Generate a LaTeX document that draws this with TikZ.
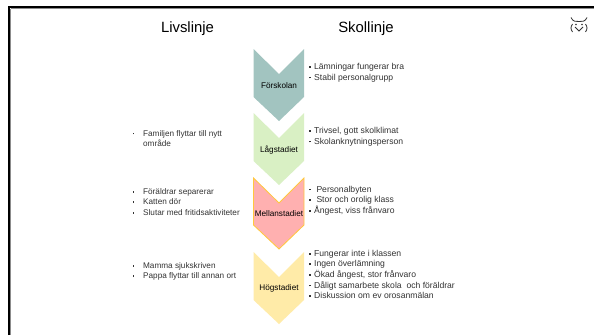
\documentclass[tikz,border=0pt]{standalone}
\usepackage{fontspec}
\setmainfont{Liberation Sans}
\definecolor{forskola}{HTML}{A2C4C0}
\definecolor{lagstadie}{HTML}{D9F0C4}
\definecolor{mellanstadie}{HTML}{FFB0B0}
\definecolor{mellanram}{HTML}{FFC83D}
\definecolor{hogstadie}{HTML}{FFEBA8}
\definecolor{brodtext}{HTML}{333333}
\newcommand{\hoger}{\makebox[4.2pt][l]{\rule[1.5pt]{1.5pt}{1.5pt}}}
\newcommand{\vanster}{\makebox[8.9pt][l]{\rule[1.5pt]{1.5pt}{1.5pt}}}
\tikzset{
	rubrik/.style={inner sep=0pt, font=\fontsize{12.7}{15}\selectfont},
	stadium/.style={inner sep=0pt, font=\fontsize{7}{8}\selectfont},
	lista/.style={inner sep=0pt, anchor=west, align=left, text=brodtext, font=\fontsize{7.35}{9.1}\selectfont},
	livlista/.style={lista, font=\fontsize{7}{9.1}\selectfont},
	uggla/.style={line width=0.7pt, black!80}
}

\begin{document}
\begin{tikzpicture}[x=0.03cm, y=-0.03cm]
	\useasboundingbox (0,0) rectangle (594,335);
	\fill[white] (0,0) rectangle (594,335);

	% Frame
	\draw[line width=0.85pt, black!45] (10.5,8.6) -- (594,8.6);
	\draw[line width=0.85pt, black!45] (10.5,8.6) -- (10.5,335);
	\draw[line width=1.7pt, black] (9,335) -- (9,7) -- (594,7);

	% Titles
	\node[rubrik] (livslinje) at (187.5,29) {Livslinje};
	\node[rubrik] (skollinje) at (366,29) {Skollinje};

	% Chevrons
	\fill[forskola] (253.5,49) -- (279,74) -- (304,49) -- (304,97) -- (279,121) -- (253.5,97) -- cycle;
	\fill[lagstadie] (253.5,113) -- (279,138) -- (304,113) -- (304,161) -- (279,185) -- (253.5,161) -- cycle;
	\filldraw[fill=mellanstadie, draw=mellanram, line width=0.7pt] (253.5,178) -- (279,203) -- (304,178) -- (304,225) -- (279,249) -- (253.5,225) -- cycle;
	\fill[hogstadie] (253.5,252) -- (279,277) -- (304,252) -- (304,300) -- (279,324) -- (253.5,300) -- cycle;

	\node[stadium] (forskolan) at (279,86) {Förskolan};
	\node[stadium] (lagstadiet) at (279,150) {Lågstadiet};
	\node[stadium] (mellanstadiet) at (279,214) {Mellanstadiet};
	\node[stadium] (hogstadiet) at (279,288) {Högstadiet};

	% Life line
	\node[livlista] (familjen) at (132.5,138.5) {\vanster Familjen flyttar till nytt\\\hspace*{8.9pt}område};
	\node[livlista] (separerar) at (132.5,202) {\vanster Föräldrar separerar\\\vanster Katten dör\\\vanster Slutar med fritidsaktiviteter};
	\node[livlista] (mamma) at (132.5,271.5) {\vanster Mamma sjukskriven\\\vanster Pappa flyttar till annan ort};

	% School line
	\node[lista] (lamningar) at (309,72.5) {\hoger Lämningar fungerar bra\\\hoger Stabil personalgrupp};
	\node[lista] (trivsel) at (309,136.5) {\hoger Trivsel, gott skolklimat\\\hoger Skolanknytningsperson};
	\node[lista] (personal) at (309,200.5) {\hoger\hspace{2pt}Personalbyten\\\hoger\hspace{2pt}Stor och orolig klass\\\hoger Ångest, viss frånvaro};
	\node[lista] (fungerar) at (309,274.5) {\hoger Fungerar inte i klassen\\\hoger Ingen överlämning\\\hoger Ökad ångest, stor frånvaro\\\hoger Dåligt samarbete skola\ \ och föräldrar\\\hoger Diskussion om ev orosanmälan};

	% Owl
	\draw[uggla] (571,17.5) .. controls (573,22) and (576,21.5) .. (579,21.5) .. controls (582,21.5) and (585,22) .. (587,17.5);
	\draw[uggla] (572.5,24) .. controls (570.5,27) and (570.5,29) .. (572.5,32);
	\draw[uggla] (585.5,24) .. controls (587.5,27) and (587.5,29) .. (585.5,32);
	\draw[uggla] (575,27) -- (579,31) -- (583,27);
	\fill[black!80] (576,24.5) circle (0.8);
	\fill[black!80] (582,24.5) circle (0.8);
\end{tikzpicture}
\end{document}
